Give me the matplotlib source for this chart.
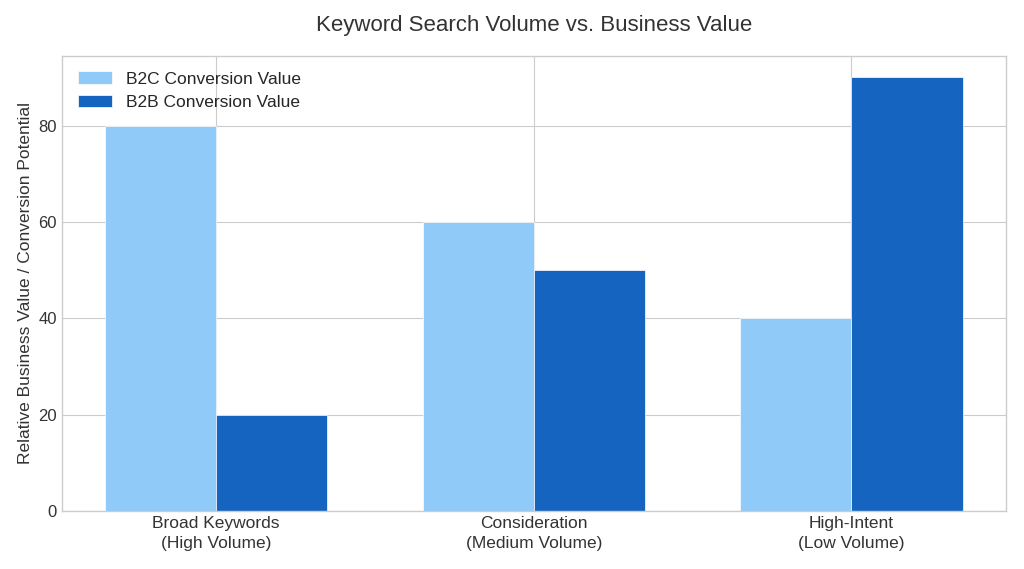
import numpy as np
import matplotlib
matplotlib.use('Agg')
import matplotlib.pyplot as plt

categories = ['Broad Keywords\n(High Volume)', 'Consideration\n(Medium Volume)', 'High-Intent\n(Low Volume)']
b2c = [80, 60, 40]
b2b = [20, 50, 90]

plt.style.use('seaborn-v0_8-whitegrid')
plt.rcParams['font.family'] = ['Liberation Sans', 'DejaVu Sans']

fig, ax = plt.subplots(figsize=(10.24, 5.69), dpi=100)
x = np.arange(len(categories))
w = 0.35
ax.bar(x - w/2, b2c, w, label='B2C Conversion Value', color='#90CAF9', edgecolor='white', linewidth=0.5)
ax.bar(x + w/2, b2b, w, label='B2B Conversion Value', color='#1565C0', edgecolor='white', linewidth=0.5)

ax.set_xticks(x)
ax.set_xticklabels(categories, fontsize=12.5, color='#333333', linespacing=1.45)
ax.tick_params(axis='y', labelsize=12, colors='#333333')
ax.set_ylabel('Relative Business Value / Conversion Potential', fontsize=12.5, color='#333333')
ax.set_title('Keyword Search Volume vs. Business Value', fontsize=16, color='#333333', pad=18)
ax.legend(loc='upper left', fontsize=12.5, frameon=False, handlelength=2.0)
for s in ax.spines.values():
    s.set_visible(True)
    s.set_color('#cccccc')

plt.subplots_adjust(left=0.0605, right=0.982, top=0.902, bottom=0.102)
plt.savefig('out.png', dpi=100)
